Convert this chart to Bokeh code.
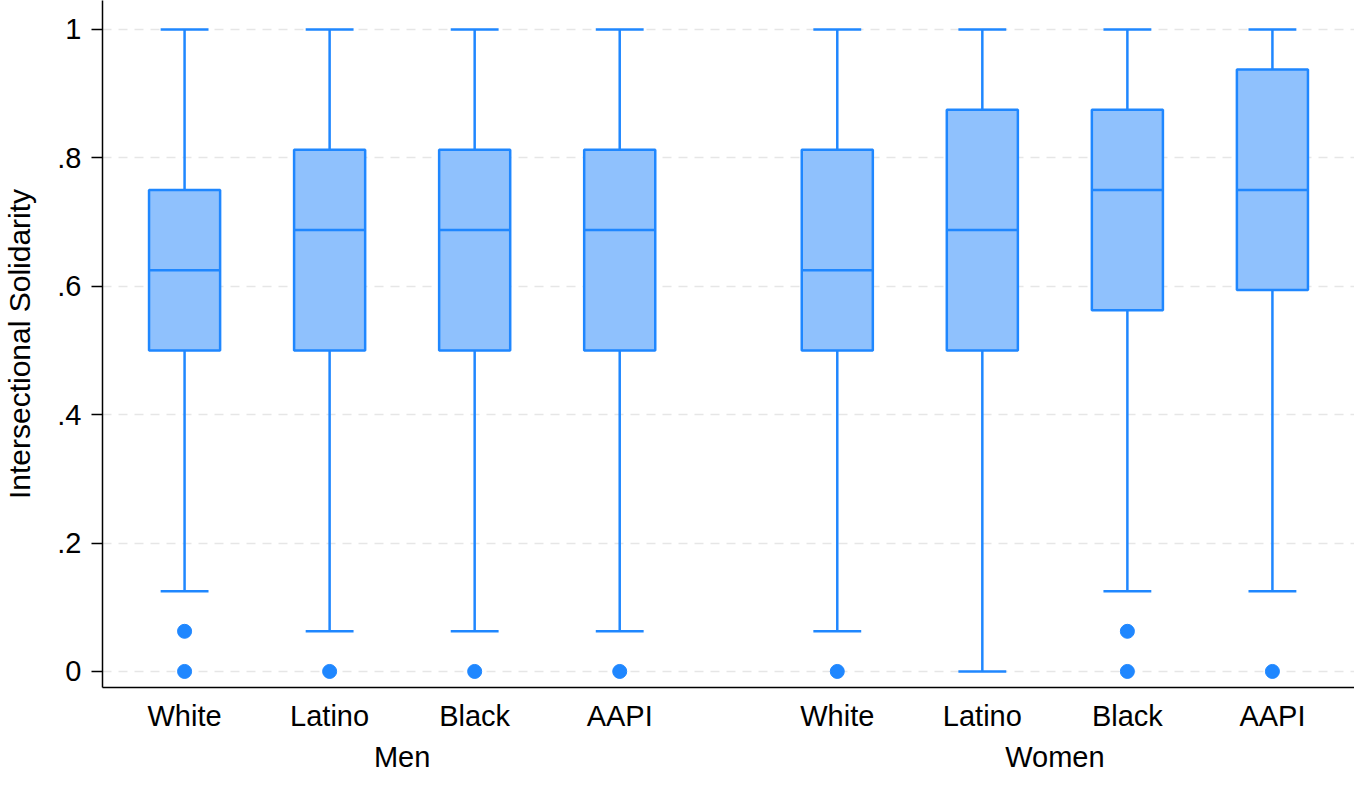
from bokeh.plotting import figure
from bokeh.models import FactorRange, ColumnDataSource, FixedTicker
from bokeh.transform import dodge
from bokeh.embed import file_html
from bokeh.resources import INLINE

# ---- data ----
genders = ["Men", "Men", "Men", "Men", "Women", "Women", "Women", "Women"]
races = ["White", "Latino", "Black", "AAPI", "White", "Latino", "Black", "AAPI"]
lower_whisker = [0.125, 0.0625, 0.0625, 0.0625, 0.0625, 0.0, 0.125, 0.125]
q1 = [0.5, 0.5, 0.5, 0.5, 0.5, 0.5, 0.5625, 0.594]
median = [0.625, 0.6875, 0.6875, 0.6875, 0.625, 0.6875, 0.75, 0.75]
q3 = [0.75, 0.8125, 0.8125, 0.8125, 0.8125, 0.875, 0.875, 0.9375]
upper_whisker = [1.0, 1.0, 1.0, 1.0, 1.0, 1.0, 1.0, 1.0]

outlier_gender = ["Men", "Men", "Men", "Men", "Men", "Women", "Women", "Women", "Women"]
outlier_race = ["White", "White", "Latino", "Black", "AAPI", "White", "Black", "Black", "AAPI"]
outlier_value = [0.0625, 0.0, 0.0, 0.0, 0.0, 0.0, 0.0625, 0.0, 0.0]

y_ticks = [0, 0.2, 0.4, 0.6, 0.8, 1.0]
y_tick_labels = ["0", ".2", ".4", ".6", ".8", "1"]

LINE = "#1f87ff"
FILL = "#8fc1fd"
FONT = "Liberation Sans"
FS = "29px"

factors = list(zip(genders, races))
src = ColumnDataSource(dict(x=factors, lo=lower_whisker, q1=q1, med=median,
                            q3=q3, hi=upper_whisker))
out_src = ColumnDataSource(dict(x=list(zip(outlier_gender, outlier_race)), y=outlier_value))

xr = FactorRange(*factors, group_padding=0.5, factor_padding=0.0,
                 range_padding=0.0155, range_padding_units="percent")

p = figure(x_range=xr, y_range=(-0.025, 1.045), width=1354, height=775,
           output_backend="svg", toolbar_location=None,
           min_border_left=89, min_border_right=0, min_border_top=0,
           min_border_bottom=60)
p.outline_line_color = None
p.background_fill_color = "white"
p.border_fill_color = "white"

# whiskers
p.segment(x0="x", y0="q3", x1="x", y1="hi", source=src, line_color=LINE, line_width=2.5)
p.segment(x0="x", y0="lo", x1="x", y1="q1", source=src, line_color=LINE, line_width=2.5)
p.segment(x0=dodge("x", -0.165, range=xr), y0="hi", x1=dodge("x", 0.165, range=xr), y1="hi",
          source=src, line_color=LINE, line_width=2.5)
p.segment(x0=dodge("x", -0.165, range=xr), y0="lo", x1=dodge("x", 0.165, range=xr), y1="lo",
          source=src, line_color=LINE, line_width=2.5)
# boxes
p.vbar(x="x", width=0.49, bottom="q1", top="q3", source=src,
       fill_color=FILL, line_color=LINE, line_width=2.5)
p.segment(x0=dodge("x", -0.245, range=xr), y0="med", x1=dodge("x", 0.245, range=xr), y1="med",
          source=src, line_color=LINE, line_width=2.5)
# outliers
p.scatter(x="x", y="y", source=out_src, size=14, fill_color=LINE, line_color=LINE)

# y axis
p.yaxis.ticker = FixedTicker(ticks=y_ticks)
p.yaxis.major_label_overrides = {t: l for t, l in zip(y_ticks, y_tick_labels)}
p.yaxis.axis_label = "Intersectional Solidarity"
p.yaxis.axis_label_text_font = FONT
p.yaxis.axis_label_text_font_style = "normal"
p.yaxis.axis_label_text_font_size = "30px"
p.yaxis.axis_label_text_color = "black"
p.yaxis.axis_label_standoff = 18
p.yaxis.major_label_text_font = FONT
p.yaxis.major_label_text_font_size = FS
p.yaxis.major_label_text_color = "black"
p.yaxis.major_label_standoff = 10
p.yaxis.major_tick_in = 0
p.yaxis.major_tick_out = 11
p.yaxis.major_tick_line_width = 1.5
p.yaxis.minor_tick_line_color = None
p.yaxis.axis_line_width = 1.5
p.yaxis.axis_line_color = "black"
p.yaxis.major_tick_line_color = "black"

# x axis
p.xaxis.major_tick_line_color = None
p.xaxis.minor_tick_line_color = None
p.xaxis.axis_line_width = 1.5
p.xaxis.axis_line_color = "black"
p.xaxis.major_label_text_font = FONT
p.xaxis.major_label_text_font_size = FS
p.xaxis.major_label_text_color = "black"
p.xaxis.major_label_orientation = "horizontal"
p.xaxis.major_label_standoff = 6
p.xaxis.group_text_font = FONT
p.xaxis.group_text_font_size = FS
p.xaxis.group_text_font_style = "normal"
p.xaxis.group_text_color = "black"
p.xaxis.group_label_orientation = "horizontal"
p.xaxis.separator_line_alpha = 0

# grid
p.xgrid.grid_line_color = None
p.ygrid.ticker = FixedTicker(ticks=y_ticks)
p.ygrid.grid_line_color = "#e6e6e6"
p.ygrid.grid_line_width = 1.5
p.ygrid.grid_line_dash = "9 7"

open("out.html", "w").write(file_html(p, INLINE))
